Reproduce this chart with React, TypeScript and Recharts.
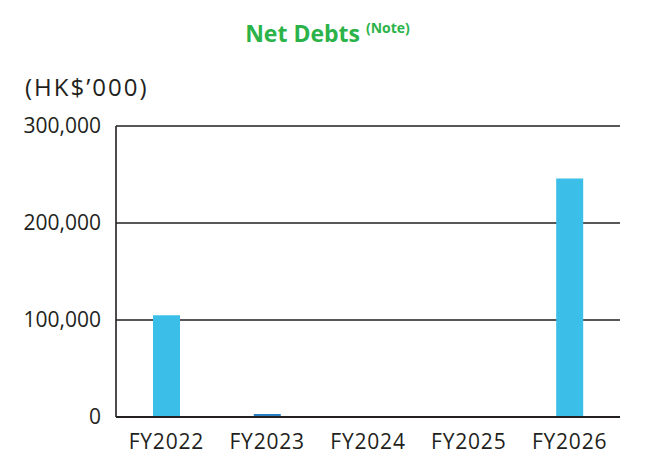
import { BarChart, Bar, XAxis, YAxis, CartesianGrid, Cell } from 'recharts';

const years = ['FY2022', 'FY2023', 'FY2024', 'FY2025', 'FY2026'];
const netDebts = [105000, 3000, 0, 0, 246000];
const barColors = ['#3bbfe8', '#2a7fc4', '#3bbfe8', '#3bbfe8', '#3bbfe8'];
const yTicks = [0, 100000, 200000, 300000];

const chartData = years.map((year, i) => ({ year, value: netDebts[i] }));

const FONT = '"Open Sans", Lato, sans-serif';
const INK = '#231f20';

const fmt = (v: number) => v.toLocaleString('en-US');

export default function App() {
  return (
    <div style={{ position: 'absolute', left: 0, top: 0, width: 647, height: 471, fontFamily: FONT }}>
      <div
        style={{
          position: 'absolute',
          top: 17,
          left: 0,
          width: 647,
          textAlign: 'center',
          color: '#2bb34a',
          fontWeight: 700,
          fontSize: 23,
          whiteSpace: 'nowrap',
          paddingLeft: 4,
        }}
      >
        Net Debts <sup style={{ fontSize: 14, verticalAlign: 'top', position: 'relative', top: 1 }}>(Note)</sup>
      </div>
      <div
        style={{
          position: 'absolute',
          top: 70,
          left: 25,
          fontSize: 24,
          letterSpacing: 2,
          color: INK,
        }}
      >
        (HK$’000)
      </div>
      <BarChart
        width={647}
        height={471}
        data={chartData}
        margin={{ top: 126, right: 27, bottom: 24, left: 0 }}
        barSize={27}
      >
        <CartesianGrid vertical={false} stroke={INK} strokeWidth={1.6} />
        <XAxis
          dataKey="year"
          height={30}
          tickLine={false}
          axisLine={{ stroke: INK, strokeWidth: 2 }}
          tickMargin={11}
          tick={{ fill: INK, fontSize: 21, fontFamily: FONT, letterSpacing: 0.8 }}
        />
        <YAxis
          width={116}
          domain={[0, 300000]}
          ticks={yTicks}
          tickFormatter={fmt}
          tickLine={false}
          tickSize={0}
          tickMargin={15}
          axisLine={{ stroke: INK, strokeWidth: 1.6 }}
          tick={{ fill: INK, fontSize: 21, fontFamily: FONT }}
        />
        <Bar dataKey="value" isAnimationActive={false}>
          {chartData.map((d, i) => (
            <Cell key={d.year} fill={barColors[i]} />
          ))}
        </Bar>
      </BarChart>
    </div>
  );
}
